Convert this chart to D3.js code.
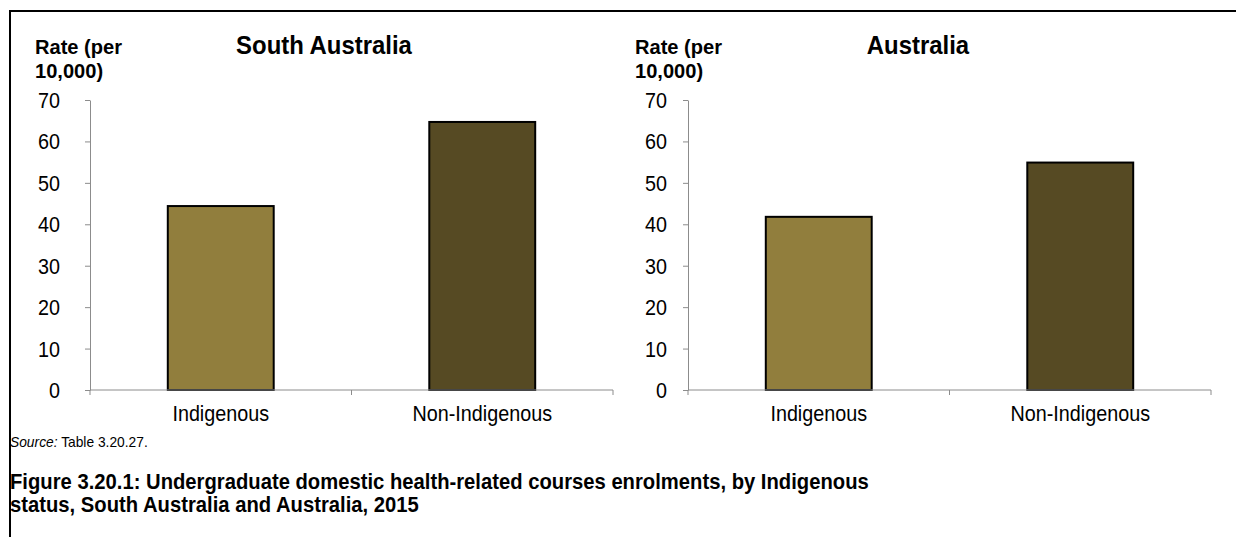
<!DOCTYPE html>
<html>
<head>
<meta charset="utf-8">
<script src="https://cdn.jsdelivr.net/npm/d3@7"></script>
<style>
  html, body { margin: 0; padding: 0; background: #fff; }
  svg { display: block; font-family: "Liberation Sans", Arial, sans-serif; }
</style>
</head>
<body>
<svg id="chart" width="1236" height="537"></svg>
<script>
const categories = ["Indigenous", "Non-Indigenous"];
const panelTitles = ["South Australia", "Australia"];
const southAustraliaValues = [44.4, 64.7];
const australiaValues = [41.8, 54.9];
const yTicks = [0, 10, 20, 30, 40, 50, 60, 70];
const barColors = ["#917E3D", "#564A23"];
const yLabelLines = ["Rate (per", "10,000)"];
const sourceItalic = "Source:";
const sourceText = " Table 3.20.27.";
const captionLines = [
  "Figure 3.20.1: Undergraduate domestic health-related courses enrolments, by Indigenous",
  "status, South Australia and Australia, 2015"
];

const SX = 0.92; // horizontal text compression seen in the reference
const svg = d3.select("#chart");

function addText(parent, x, y, str, size, opts = {}) {
  const t = parent.append("text")
    .attr("transform", `translate(${x},${y}) scale(${opts.sx || SX},1)`)
    .attr("font-size", size)
    .attr("text-anchor", opts.anchor || "start")
    .attr("font-weight", opts.bold ? "bold" : "normal")
    .attr("fill", "#000");
  if (str !== null) t.text(str);
  return t;
}

// frame lines
svg.append("line").attr("x1", 9).attr("x2", 1236).attr("y1", 11).attr("y2", 11)
  .attr("stroke", "#000").attr("stroke-width", 2);
svg.append("line").attr("x1", 10).attr("x2", 10).attr("y1", 10).attr("y2", 537)
  .attr("stroke", "#000").attr("stroke-width", 2);

const panels = [
  { title: panelTitles[0], values: southAustraliaValues, axisX: 90, labelEdge: 60, yLabX: 35, titleX: 324 },
  { title: panelTitles[1], values: australiaValues, axisX: 688, labelEdge: 667, yLabX: 635, titleX: 918 }
];

const y = d3.scaleLinear().domain([0, 70]).range([390, 100]);

panels.forEach(p => {
  const x0 = p.axisX, x1 = p.axisX + 523;
  const g = svg.append("g");
  const x = d3.scaleBand().domain(categories).range([x0, x1]).padding(0);
  const barW = x.bandwidth() * 0.405;

  // y axis
  const yAxis = d3.axisLeft(y).tickValues(yTicks).tickSize(5).tickSizeOuter(0);
  const ya = g.append("g").attr("transform", `translate(${x0},0)`).call(yAxis);
  ya.select(".domain").attr("stroke", "#8c8c8c");
  ya.selectAll(".tick line").attr("stroke", "#8c8c8c");
  ya.selectAll(".tick text")
    .attr("font-size", 21.5).attr("fill", "#000")
    .attr("font-family", "Liberation Sans, Arial, sans-serif")
    .attr("x", 0).attr("dy", "0.35em")
    .attr("transform", `translate(${p.labelEdge - x0},0) scale(${SX},1)`);

  // bars
  g.selectAll("rect.bar").data(p.values).enter().append("rect")
    .attr("class", "bar")
    .attr("x", (d, i) => x(categories[i]) + (x.bandwidth() - barW) / 2)
    .attr("width", barW)
    .attr("y", d => y(d))
    .attr("height", d => y(0) - y(d))
    .attr("fill", (d, i) => barColors[i])
    .attr("stroke", "#000").attr("stroke-width", 2);

  // x axis
  g.append("line").attr("x1", x0).attr("x2", x1).attr("y1", y(0)).attr("y2", y(0))
    .attr("stroke", "#8c8c8c").attr("stroke-width", 1);
  const boundaries = [x0, x0 + x.step(), x1];
  g.selectAll("line.xt").data(boundaries).enter().append("line")
    .attr("class", "xt")
    .attr("x1", d => d).attr("x2", d => d)
    .attr("y1", y(0)).attr("y2", y(0) + 5)
    .attr("stroke", "#8c8c8c");
  categories.forEach(c => {
    addText(g, x(c) + x.bandwidth() / 2, 421, c, 21.5, { anchor: "middle" });
  });

  // y label
  yLabelLines.forEach((l, i) => addText(g, p.yLabX, 54 + i * 24, l, 20.5, { bold: true, sx: 0.98 }));

  // title
  addText(g, p.titleX, 54, p.title, 26, { anchor: "middle", bold: true });
});

// source
const src = addText(svg, 10, 447, null, 15);
src.append("tspan").attr("font-style", "italic").text(sourceItalic);
src.append("tspan").text(sourceText);

// caption
captionLines.forEach((l, i) => addText(svg, 10, 489 + i * 23, l, 22, { bold: true }));
</script>
</body>
</html>
